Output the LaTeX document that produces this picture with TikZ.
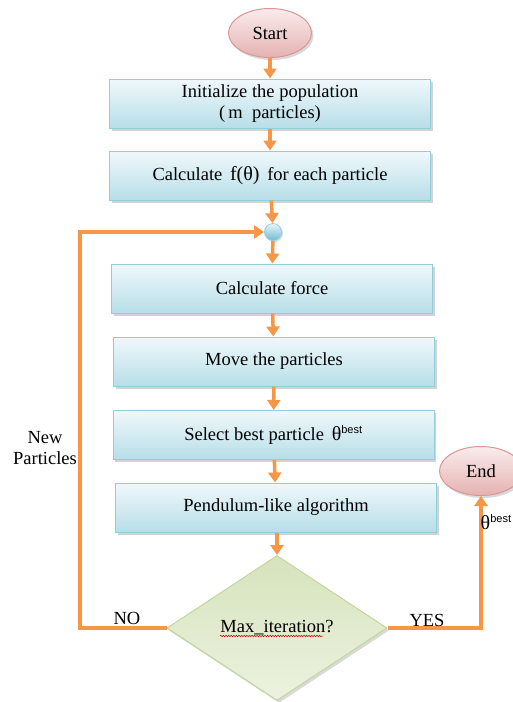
\documentclass[tikz,border=0pt]{standalone}
\usepackage{fontspec}
\setmainfont{Liberation Serif}
\setsansfont{Liberation Sans}
\usetikzlibrary{positioning, arrows.meta, shapes.geometric, shadows, decorations.pathmorphing}

\definecolor{flowline}{RGB}{247,150,70}
\definecolor{boxtop}{RGB}{240,248,251}
\definecolor{boxbot}{RGB}{183,222,232}
\definecolor{boxedge}{RGB}{146,205,220}
\definecolor{termtop}{RGB}{250,236,236}
\definecolor{termbot}{RGB}{228,178,177}
\definecolor{termedge}{RGB}{217,150,148}
\definecolor{dectop}{RGB}{214,227,188}
\definecolor{decbot}{RGB}{236,242,224}
\definecolor{decedge}{RGB}{195,214,155}
\definecolor{jointop}{RGB}{235,246,250}
\definecolor{joinbot}{RGB}{110,185,208}

\begin{document}
\begin{tikzpicture}[
    x=1pt, y=-1pt,
    >=stealth,
    font=\fontsize{18.5}{21}\selectfont,
    stepnode/.style={rectangle, draw=boxedge, line width=1pt, top color=boxtop, bottom color=boxbot, minimum width=321pt, minimum height=49pt, align=center, drop shadow={shadow xshift=2pt, shadow yshift=-2.5pt, opacity=0.35}},
    termnode/.style={ellipse, draw=termedge, line width=1pt, top color=termtop, bottom color=termbot, minimum width=83pt, minimum height=49pt, inner sep=0pt, drop shadow={shadow xshift=2pt, shadow yshift=-2.5pt, opacity=0.3}},
    decisionnode/.style={diamond, aspect=1.52, draw=decedge, line width=1pt, top color=dectop, bottom color=decbot, minimum width=220pt, minimum height=145pt, inner sep=0pt, drop shadow={shadow xshift=2pt, shadow yshift=-2.5pt, opacity=0.3}},
    joinnode/.style={circle, draw=boxedge, line width=0.8pt, top color=jointop, bottom color=joinbot, minimum size=17pt, inner sep=0pt, drop shadow={shadow xshift=1.5pt, shadow yshift=-1.5pt, opacity=0.3}},
    flowarrow/.style={draw=flowline, line width=3.5pt, -{Triangle[width=13pt, length=10pt]}},
    sidelabel/.style={align=center, inner sep=1pt}
]
\useasboundingbox (0,0) rectangle (512,702);

% Terminals
\node[termnode] (start) at (270, 33) {Start};
\node[termnode] (end) at (481, 471) {End};

% Process boxes
\node[stepnode] (init) at (270, 103.5) {Initialize the population\\(\,m\enspace particles)};
\node[stepnode] (fit) at (270, 175.5) {Calculate \,{\fontsize{20}{20}\selectfont f(θ)}\, for each particle};

% Junction for the loop
\node[joinnode] (join) at (273, 232) {};

\node[stepnode] (force) at (272, 288.5) {Calculate force};
\node[stepnode] (move) at (274, 361.5) {Move the particles};
\node[stepnode] (best) at (273.5, 435) {Select best particle \,{\fontsize{20}{20}\selectfont θ}\textsuperscript{\sffamily\fontsize{11}{11}\selectfont best}};
\node[stepnode] (pend) at (276, 507.5) {Pendulum-like algorithm};

% Decision
\node[decisionnode] (maxit) at (277, 628) {Max\_iteration?};
\draw[red!80!black, line width=0.5pt, decorate, decoration={snake, amplitude=0.7pt, segment length=2.6pt}] (220,636) -- (323,636);

% Arrows: main flow
\draw[flowarrow] (start) -- (init);
\draw[flowarrow] (init) -- (fit);
\draw[flowarrow] (fit) -- (join);
\draw[flowarrow] (join) -- (force);
\draw[flowarrow] (force) -- (move);
\draw[flowarrow] (move) -- (best);
\draw[flowarrow] (best) -- (pend);
\draw[flowarrow] (pend.south -| maxit.north) -- (maxit.north);

% Loop back (NO)
\coordinate (noc) at (80, 628);
\draw[flowarrow] (maxit.west) -- (noc) |- (join.west);

% Exit (YES)
\draw[flowarrow] (maxit.east) -| (end.south);

% Labels
\node[sidelabel] (newp) at (45, 448) {New\\Particles};
\node[sidelabel] (nolab) at (127, 618) {NO};
\node[sidelabel] (yeslab) at (427, 620) {YES};
\node[sidelabel, anchor=west, inner sep=0pt] (thetalab) at (480.5, 522) {{\fontsize{20}{20}\selectfont θ}\textsuperscript{\sffamily\fontsize{11}{11}\selectfont best}};

\end{tikzpicture}
\end{document}
